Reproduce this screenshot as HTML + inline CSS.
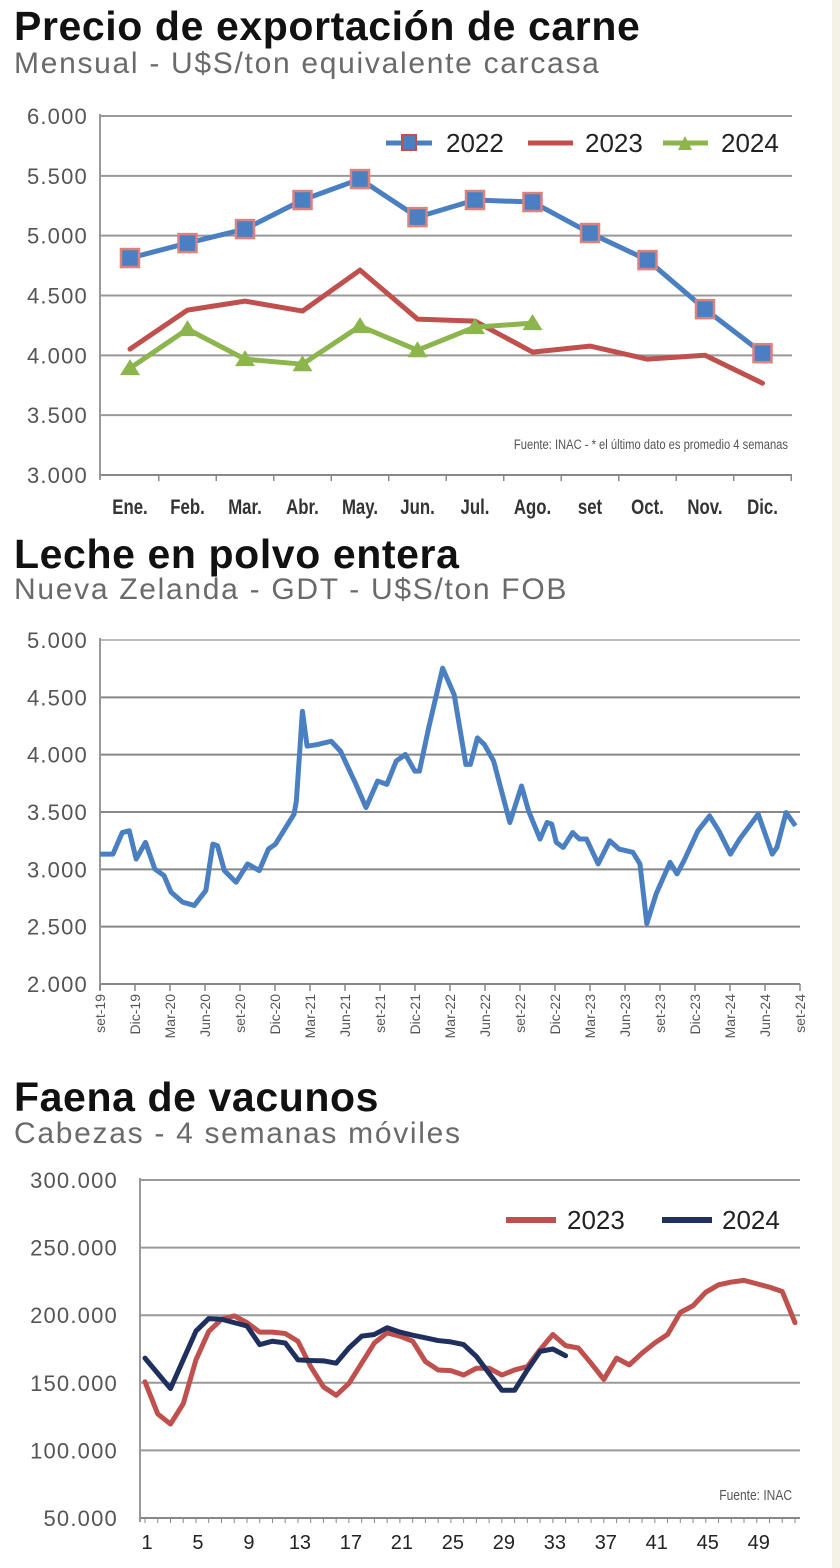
<!DOCTYPE html>
<html><head><meta charset="utf-8">
<style>
body{margin:0;width:840px;height:1568px;background:#fff;overflow:hidden;font-family:"Liberation Sans",sans-serif;}
.t{position:absolute;left:14px;font-weight:bold;font-size:41px;color:#111;letter-spacing:0.6px;margin:0;white-space:nowrap}
.s{position:absolute;left:14px;font-size:30px;color:#6a6a6a;letter-spacing:1.7px;white-space:nowrap}
svg{position:absolute;left:0;top:0}
svg text{font-family:"Liberation Sans",sans-serif}
</style></head><body>
<div class="t" style="top:3px">Precio de exportación de carne</div>
<div class="s" style="top:47px">Mensual - U$S/ton equivalente carcasa</div>
<div class="t" style="top:531px">Leche en polvo entera</div>
<div class="s" style="top:573px">Nueva Zelanda - GDT - U$S/ton FOB</div>
<div class="t" style="top:1074px">Faena de vacunos</div>
<div class="s" style="top:1117px">Cabezas - 4 semanas móviles</div>
<div style="position:absolute;left:832px;top:0;width:8px;height:1568px;background:#f4f1e6"></div>
<svg id="svg" width="840" height="1568"></svg>
<script>
// Chart 1 data
const months1 = ["Ene.","Feb.","Mar.","Abr.","May.","Jun.","Jul.","Ago.","set","Oct.","Nov.","Dic."];
const c1y2022 = [4813,4938,5055,5298,5473,5155,5298,5281,5022,4796,4386,4018];
const c1y2023 = [4052,4378,4453,4370,4712,4303,4286,4027,4077,3968,4001,3767];
const c1y2024 = [3893,4219,3968,3926,4244,4043,4236,4269];
const c1ticks = [3000,3500,4000,4500,5000,5500,6000];
const c1tickLabels = ["3.000","3.500","4.000","4.500","5.000","5.500","6.000"];
// Chart 2 data (month index from sep-19, value)
const c2months = [0,1.11,1.91,2.51,3.10,3.90,4.70,5.49,6.09,7.08,8.08,9.07,9.67,10.07,10.66,11.66,12.65,13.65,14.44,15.04,16.63,16.83,17.35,17.75,18.62,19.82,20.61,21.81,22.80,23.80,24.59,25.39,26.18,26.98,27.38,28.17,29.37,30.36,31.36,31.75,32.35,32.95,33.74,35.13,36.13,36.73,37.72,38.32,38.72,39.11,39.71,40.51,41.10,41.70,42.70,43.69,44.49,45.68,46.28,46.87,47.67,48.86,49.46,50.06,51.25,52.25,53.04,54.04,54.83,56.42,57.62,58.02,58.81,59.61];
const c2values = [3133,3133,3321,3336,3090,3235,3003,2945,2801,2714,2685,2815,3220,3206,2989,2887,3047,2989,3177,3220,3481,3596,4378,4074,4088,4117,4031,3770,3539,3770,3741,3944,4002,3857,3857,4233,4754,4522,3915,3915,4146,4088,3944,3408,3727,3510,3264,3408,3394,3235,3191,3321,3264,3264,3047,3249,3177,3148,3047,2526,2786,3061,2960,3076,3336,3466,3336,3133,3264,3481,3133,3191,3495,3379];
const c2ticks = [2000,2500,3000,3500,4000,4500,5000];
const c2tickLabels = ["2.000","2.500","3.000","3.500","4.000","4.500","5.000"];
const c2xLabels = ["set-19","Dic-19","Mar-20","Jun-20","set-20","Dic-20","Mar-21","Jun-21","set-21","Dic-21","Mar-22","Jun-22","set-22","Dic-22","Mar-23","Jun-23","set-23","Dic-23","Mar-24","Jun-24","set-24"];
// Chart 3 data (weeks 1..)
const c3y2023 = [150750,127000,119500,134500,167000,188000,197000,199500,194500,187500,187500,186500,180750,162000,147000,140750,149500,164500,179500,187000,184500,180750,165750,159500,159000,155750,160750,160750,155750,159500,162000,174500,185750,177500,175750,164500,152500,168250,163250,172000,179500,185750,202000,207000,217000,222500,224500,225750,223250,220750,217500,194500];
const c3y2024 = [168250,157000,145750,167000,188250,197500,197000,194500,192000,178250,180750,179500,167000,166500,166250,164500,175750,184500,185750,190750,187500,185250,183250,181250,180250,178250,169500,157000,144500,144500,159500,173250,175000,170000];
const c3ticks = [50000,100000,150000,200000,250000,300000];
const c3tickLabels = ["50.000","100.000","150.000","200.000","250.000","300.000"];
const c3xLabels = [1,5,9,13,17,21,25,29,33,37,41,45,49];

const svg = document.getElementById('svg');
const NS = 'http://www.w3.org/2000/svg';
function mk(tag, attrs, parent){const e=document.createElementNS(NS,tag);for(const k in attrs)e.setAttribute(k,attrs[k]);(parent||svg).appendChild(e);return e;}
function txt(x,y,s,attrs){const e=mk('text',Object.assign({x:x,y:y},attrs));e.textContent=s;return e;}
const YL = {'text-anchor':'end','font-size':22,'letter-spacing':1.2,fill:'#555'};

// ===== Chart 1 =====
const x1 = i => 130 + i*57.5;
const y1 = v => 475 - (v-3000)/3000*359;
c1ticks.forEach((v,i)=>{
  const l=mk('line',{x1:100,x2:792,y1:y1(v),y2:y1(v),stroke:i==0?'#888':'#999','stroke-width':2});
  
  
  const t=txt(88,y1(v)+8,c1tickLabels[i],YL);
  
  
});
mk('line',{x1:100,x2:100,y1:114,y2:480,stroke:'#999','stroke-width':2});
months1.forEach((m,i)=>{
  mk('line',{x1:x1(i)+28.75,x2:x1(i)+28.75,y1:475,y2:481,stroke:'#888','stroke-width':1.5});
  const t=txt(x1(i),514,m,{'text-anchor':'middle','font-size':21,'font-weight':'bold',fill:'#333',transform:`translate(${x1(i)},0) scale(0.8,1) translate(${-x1(i)},0)`});
  
  
});
function poly(arr,xf,yf,color,w,name){
  const p=mk('polyline',{points:arr.map((v,i)=>xf(i)+','+yf(v)).join(' '),fill:'none',stroke:color,'stroke-width':w,'stroke-linejoin':'round','stroke-linecap':'round'});
  
  
  return p;
}
poly(c1y2023,x1,y1,'#c0504d',5,'series-2023-line');
poly(c1y2024,x1,y1,'#8db54d',5,'series-2024-line');
c1y2024.forEach((v,i)=>{
  const m=mk('polygon',{points:`${x1(i)},${y1(v)-9} ${x1(i)-10},${y1(v)+7} ${x1(i)+10},${y1(v)+7}`,fill:'#8db54d'});
  
  
});
poly(c1y2022,x1,y1,'#4a7fc1',5,'series-2022-line');
c1y2022.forEach((v,i)=>{
  const m=mk('rect',{x:x1(i)-9,y:y1(v)-9,width:18,height:18,fill:'#4a7fc1',stroke:'#d9827f','stroke-width':2.5});
  
  
});
const lg1=mk('g',{});


mk('line',{x1:386,x2:432,y1:143,y2:143,stroke:'#4a7fc1','stroke-width':5},lg1);
mk('rect',{x:402,y:135,width:14,height:15,fill:'#4a7fc1',stroke:'#c0504d','stroke-width':2},lg1);
txt(446,152,'2022',{'font-size':26,fill:'#222'});
mk('line',{x1:528,x2:573,y1:143,y2:143,stroke:'#c0504d','stroke-width':5},lg1);
txt(585,152,'2023',{'font-size':26,fill:'#222'});
mk('line',{x1:663,x2:708,y1:143,y2:143,stroke:'#8db54d','stroke-width':5},lg1);
mk('polygon',{points:'685,136 678,150 692,150',fill:'#8db54d'},lg1);
txt(721,152,'2024',{'font-size':26,fill:'#222'});
txt(788,449,'Fuente: INAC - * el último dato es promedio 4 semanas',{'text-anchor':'end','font-size':14,fill:'#555',transform:'translate(788,0) scale(0.8,1) translate(-788,0)'});

// ===== Chart 2 =====
const x2 = m => 100 + m*700/60;
const y2 = v => 984 - (v-2000)/3000*344;
c2ticks.forEach((v,i)=>{
  const l=mk('line',{x1:100,x2:800,y1:y2(v),y2:y2(v),stroke:i==6?'#bbb':'#888','stroke-width':2});
  
  
  const t=txt(88,y2(v)+8,c2tickLabels[i],YL);
  
  
});
mk('line',{x1:100,x2:100,y1:638,y2:990,stroke:'#999','stroke-width':2});
c2xLabels.forEach((s,i)=>{
  const x=x2(i*3);
  mk('line',{x1:x,x2:x,y1:984,y2:991,stroke:'#888','stroke-width':1.5});
  const t=txt(x+5,994,s,{'text-anchor':'end','font-size':14,fill:'#555',transform:`rotate(-90 ${x+5} 994)`});
  
  
});
const p2=mk('polyline',{points:c2values.map((v,i)=>x2(c2months[i])+','+y2(v)).join(' '),fill:'none',stroke:'#4a7fc1','stroke-width':5,'stroke-linejoin':'round'});



// ===== Chart 3 =====
const x3 = w => 145 + (w-1)*(650/51);
const y3 = v => 1518 - (v-50000)/250000*338;
c3ticks.forEach((v,i)=>{
  const l=mk('line',{x1:140,x2:800,y1:y3(v),y2:y3(v),stroke:i==0?'#888':'#999','stroke-width':2});
  
  
  const t=txt(118,y3(v)+8,c3tickLabels[i],YL);
  
  
});
mk('line',{x1:140,x2:140,y1:1178,y2:1522,stroke:'#999','stroke-width':2});
for(let w=1;w<=52;w++) mk('line',{x1:x3(w),x2:x3(w),y1:1518,y2:1523,stroke:'#888','stroke-width':1});
c3xLabels.forEach(w=>{
  const t=txt(x3(w)+2,1549,String(w),{'text-anchor':'middle','font-size':20,fill:'#222'});
  
  
});
poly(c3y2023,i=>x3(i+1),y3,'#c0504d',5,'slaughter-2023-line');
poly(c3y2024,i=>x3(i+1),y3,'#1f2f5e',5,'slaughter-2024-line');
const lg3=mk('g',{});


mk('line',{x1:506,x2:556,y1:1220,y2:1220,stroke:'#c0504d','stroke-width':6},lg3);
txt(567,1229,'2023',{'font-size':26,fill:'#222'});
mk('line',{x1:662,x2:712,y1:1220,y2:1220,stroke:'#1f2f5e','stroke-width':6},lg3);
txt(722,1229,'2024',{'font-size':26,fill:'#222'});
txt(792,1500,'Fuente: INAC',{'text-anchor':'end','font-size':15,fill:'#555',transform:'translate(792,0) scale(0.8,1) translate(-792,0)'});
</script>
</body></html>
